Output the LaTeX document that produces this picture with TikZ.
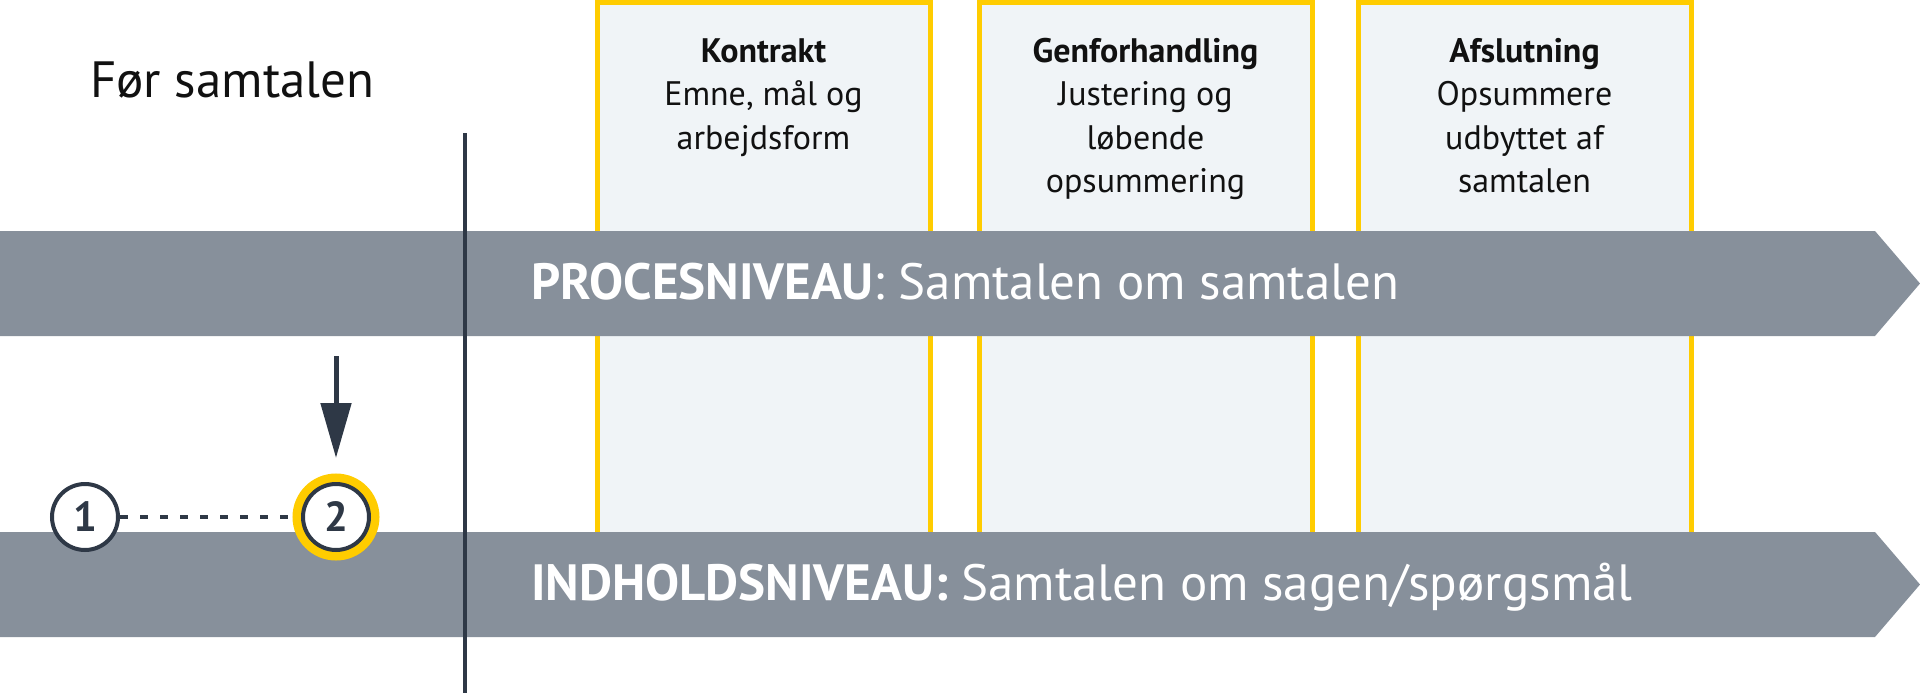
\documentclass[tikz,border=0pt]{standalone}
\usepackage{fontspec}
\setmainfont{PT Sans}
\usetikzlibrary{arrows.meta}
\definecolor{bandgray}{HTML}{87909B}
\definecolor{ink}{HTML}{2E3846}
\definecolor{gold}{HTML}{FFCC00}
\definecolor{boxfill}{HTML}{F0F4F7}
\definecolor{txt}{HTML}{111111}
\tikzset{
  phasebox/.style={draw=gold, line width=5pt, fill=boxfill, inner sep=0pt, outer sep=0pt,
    minimum width=333pt, minimum height=542pt, anchor=north west},
  boxtitle/.style={anchor=base, inner sep=0pt, text=txt, font=\fontsize{34}{40}\selectfont\bfseries},
  boxline/.style={anchor=base, inner sep=0pt, text=txt, font=\fontsize{34}{40}\selectfont},
  bandtext/.style={anchor=base west, inner sep=0pt, text=white, font=\fontsize{51}{60}\selectfont},
  band/.style={fill=bandgray},
  numcirc/.style={circle, draw=ink, line width=4pt, fill=white, minimum size=66pt, inner sep=0pt,
    text=ink, font=\fontsize{42}{44}\selectfont\bfseries},
  goldring/.style={preaction={draw=gold, line width=21pt}},
  dashconn/.style={draw=ink, line width=4pt, dash pattern=on 8pt off 12pt},
  arrowconn/.style={draw=ink, line width=5pt, -{Triangle[width=30pt,length=55pt]}},
  divider/.style={draw=ink, line width=3.5pt}
}
\begin{document}
\begin{tikzpicture}[x=1pt,y=-1pt]
\useasboundingbox (0,0) rectangle (1920,693);
% phase boxes
\node[phasebox] (b1) at (597,2.5) {};
\node[phasebox] (b2) at (979,2.5) {};
\node[phasebox] (b3) at (1358,2.5) {};
% box texts
\node[boxtitle] (b1t) at (763.5,63) {Kontrakt};
\node[boxline] (b1a) at (763.5,106) {Emne, mål og};
\node[boxline] (b1b) at (763.5,149) {arbejdsform};
\node[boxtitle] (b2t) at (1145.5,63) {Genforhandling};
\node[boxline] (b2a) at (1145.5,106) {Justering og};
\node[boxline] (b2b) at (1145.5,149) {løbende};
\node[boxline] (b2c) at (1145.5,192) {opsummering};
\node[boxtitle] (b3t) at (1524.5,63) {Afslutning};
\node[boxline] (b3a) at (1524.5,106) {Opsummere};
\node[boxline] (b3b) at (1524.5,149) {udbyttet af};
\node[boxline] (b3c) at (1524.5,192) {samtalen};
% bands
\fill[band] (0,231) -- (1875,231) -- (1920,283.5) -- (1875,336) -- (0,336) -- cycle;
\fill[band] (0,532) -- (1875,532) -- (1920,584.5) -- (1875,637) -- (0,637) -- cycle;
\node[bandtext] (proc) at (531,299) {\textbf{PROCESNIVEAU}: Samtalen om samtalen};
\node[bandtext] (indh) at (531,600) {\textbf{INDHOLDSNIVEAU:} Samtalen om sagen/spørgsmål};
% heading
\node[anchor=base west, inner sep=0pt, text=txt, font=\fontsize{51}{60}\selectfont] (before) at (90,97) {Før samtalen};
% divider
\coordinate (vtop) at (465,133);
\coordinate (vbot) at (465,693);
\draw[divider] (vtop) -- (vbot);
% circles
\node[numcirc] (c1) at (85,517) {1};
\node[numcirc, goldring] (c2) at (336,517) {2};
\draw[dashconn, shorten >=8pt] (c1) -- (c2);
\coordinate (atop) at (336,356);
\draw[arrowconn, shorten >=24pt] (atop) -- (c2);
\end{tikzpicture}
\end{document}
